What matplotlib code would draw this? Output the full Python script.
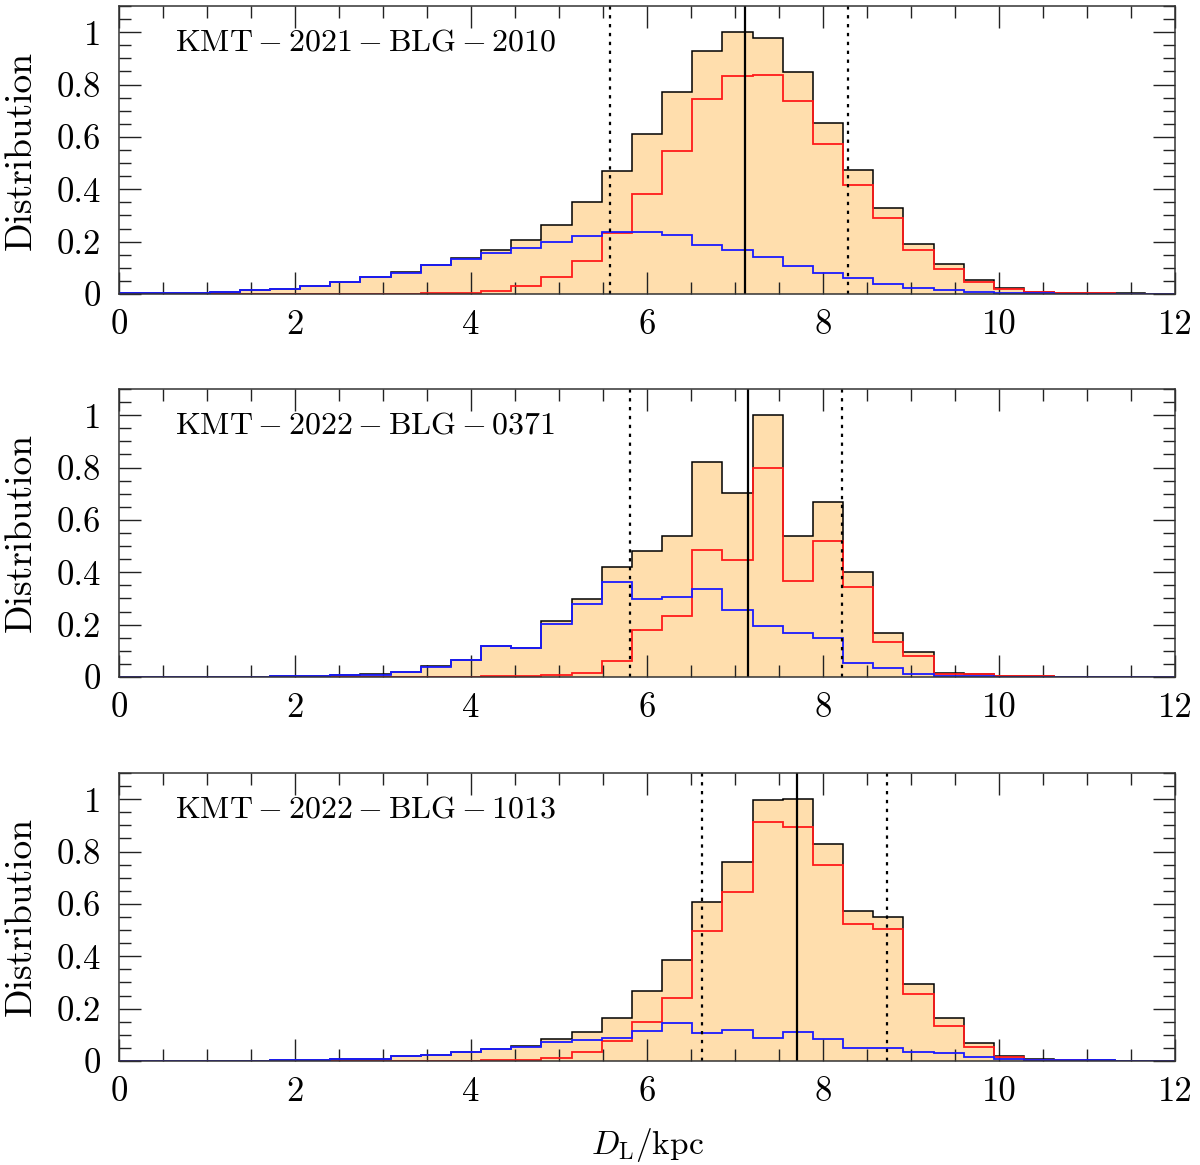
import numpy as np
import matplotlib
matplotlib.use("Agg")
import matplotlib.pyplot as plt
from matplotlib.ticker import MultipleLocator, FixedLocator, FixedFormatter

plt.rcParams['font.family'] = ['cmr10', 'DejaVu Serif']
plt.rcParams['mathtext.fontset'] = 'cm'
plt.rcParams['axes.formatter.use_mathtext'] = True

# ---------------- data ----------------
n_bins = 35
x_min, x_max = 0.0, 12.0

event_names = ["KMT-2021-BLG-2010", "KMT-2022-BLG-0371", "KMT-2022-BLG-1013"]

total_2010 = [0.002, 0.003, 0.005, 0.009, 0.014, 0.019, 0.029, 0.045, 0.064, 0.083,
              0.112, 0.139, 0.169, 0.208, 0.265, 0.350, 0.468, 0.611, 0.773, 0.930,
              1.000, 0.978, 0.847, 0.653, 0.475, 0.329, 0.190, 0.115, 0.054, 0.023,
              0.008, 0.004, 0.003, 0.002, 0.001]
bulge_2010 = [0.000, 0.000, 0.000, 0.000, 0.000, 0.000, 0.000, 0.000, 0.000, 0.001,
              0.002, 0.005, 0.013, 0.032, 0.066, 0.127, 0.232, 0.382, 0.546, 0.745,
              0.832, 0.836, 0.739, 0.573, 0.418, 0.290, 0.168, 0.096, 0.045, 0.020,
              0.006, 0.003, 0.002, 0.000, 0.000]
disk_2010 = [0.002, 0.003, 0.005, 0.009, 0.014, 0.019, 0.029, 0.045, 0.064, 0.082,
             0.110, 0.134, 0.156, 0.176, 0.199, 0.223, 0.238, 0.236, 0.225, 0.187,
             0.168, 0.143, 0.108, 0.082, 0.062, 0.038, 0.023, 0.015, 0.006, 0.003,
             0.002, 0.001, 0.001, 0.001, 0.001]

total_0371 = [0.000, 0.000, 0.000, 0.000, 0.001, 0.003, 0.005, 0.008, 0.010, 0.020,
              0.041, 0.066, 0.118, 0.112, 0.214, 0.297, 0.420, 0.482, 0.540, 0.822,
              0.703, 1.000, 0.540, 0.669, 0.400, 0.169, 0.096, 0.017, 0.010, 0.004,
              0.002, 0.001, 0.000, 0.000, 0.000]
bulge_0371 = [0.000, 0.000, 0.000, 0.000, 0.000, 0.000, 0.000, 0.000, 0.000, 0.000,
              0.001, 0.001, 0.002, 0.003, 0.006, 0.017, 0.061, 0.181, 0.234, 0.484,
              0.446, 0.800, 0.368, 0.518, 0.344, 0.132, 0.082, 0.013, 0.010, 0.003,
              0.002, 0.001, 0.000, 0.000, 0.000]
disk_0371 = [0.000, 0.000, 0.000, 0.000, 0.001, 0.002, 0.004, 0.006, 0.009, 0.019,
             0.038, 0.066, 0.118, 0.112, 0.204, 0.280, 0.361, 0.299, 0.306, 0.335,
             0.255, 0.194, 0.167, 0.149, 0.054, 0.036, 0.010, 0.004, 0.002, 0.001,
             0.001, 0.000, 0.000, 0.000, 0.000]

total_1013 = [0.000, 0.000, 0.000, 0.000, 0.001, 0.002, 0.003, 0.006, 0.009, 0.018,
              0.022, 0.036, 0.046, 0.057, 0.084, 0.112, 0.164, 0.266, 0.385, 0.606,
              0.760, 0.997, 1.000, 0.830, 0.573, 0.551, 0.293, 0.163, 0.067, 0.020,
              0.009, 0.005, 0.003, 0.001, 0.000]
bulge_1013 = [0.000, 0.000, 0.000, 0.000, 0.000, 0.000, 0.000, 0.000, 0.000, 0.000,
              0.000, 0.001, 0.002, 0.005, 0.013, 0.033, 0.076, 0.148, 0.242, 0.497,
              0.644, 0.911, 0.892, 0.748, 0.522, 0.504, 0.257, 0.135, 0.053, 0.015,
              0.005, 0.003, 0.001, 0.000, 0.000]
disk_1013 = [0.000, 0.000, 0.000, 0.000, 0.001, 0.002, 0.003, 0.006, 0.009, 0.018,
             0.022, 0.035, 0.044, 0.052, 0.071, 0.079, 0.089, 0.116, 0.145, 0.108,
             0.117, 0.087, 0.111, 0.084, 0.051, 0.048, 0.036, 0.031, 0.015, 0.006,
             0.004, 0.002, 0.002, 0.001, 0.001]

# median and 1-sigma range of D_L (kpc)
dl_median = [7.11, 7.15, 7.70]
dl_low = [5.58, 5.81, 6.63]
dl_high = [8.28, 8.22, 8.73]

x_tick_values = [0, 2, 4, 6, 8, 10, 12]
x_tick_labels = ["0", "2", "4", "6", "8", "10", "12"]
y_tick_values = [0, 0.2, 0.4, 0.6, 0.8, 1.0]
y_tick_labels = ["0", "0.2", "0.4", "0.6", "0.8", "1"]

totals = [total_2010, total_0371, total_1013]
bulges = [bulge_2010, bulge_0371, bulge_1013]
disks = [disk_2010, disk_0371, disk_1013]

# ---------------- figure ----------------
W, H = 1200, 1165
fig = plt.figure(figsize=(W / 100, H / 100), dpi=100)

left_px, right_px = 119, 1175
panel_px = [(6, 294), (389, 677), (773, 1061)]

edges = np.linspace(x_min, x_max, n_bins + 1)
fs = 23
tick_fs = 25
ylab_fs = 27

for i in range(3):
    top, bot = panel_px[i]
    ax = fig.add_axes([left_px / W, 1 - bot / H, (right_px - left_px) / W, (bot - top) / H])
    tot = np.array(totals[i])
    ax.stairs(tot, edges, fill=True, color='navajowhite', lw=0, zorder=1)
    ax.stairs(tot, edges, color='black', lw=1.1, zorder=2)
    ax.stairs(np.array(bulges[i]), edges, color='#ff1a1a', lw=1.3, zorder=3)
    ax.stairs(np.array(disks[i]), edges, color='#1a1aff', lw=1.3, zorder=4)

    ax.axvline(dl_median[i], color='black', lw=1.6, zorder=5)
    ax.axvline(dl_low[i], color='black', lw=1.6, ls=(0, (1.5, 2.5)), zorder=5)
    ax.axvline(dl_high[i], color='black', lw=1.6, ls=(0, (1.5, 2.5)), zorder=5)

    ax.set_xlim(x_min, x_max)
    ax.set_ylim(0, 1.1)

    ax.xaxis.set_major_locator(FixedLocator(x_tick_values))
    ax.xaxis.set_major_formatter(FixedFormatter(x_tick_labels))
    ax.xaxis.set_minor_locator(MultipleLocator(0.5))
    ax.yaxis.set_major_locator(FixedLocator(y_tick_values))
    ax.yaxis.set_major_formatter(FixedFormatter(y_tick_labels))
    ax.yaxis.set_minor_locator(MultipleLocator(0.05))

    ax.tick_params(which='both', direction='in', top=True, right=True,
                   width=1.0, color='#222222', labelsize=tick_fs)
    ax.tick_params(which='major', length=16)
    ax.tick_params(which='minor', length=8.5)
    ax.tick_params(axis='x', which='major', pad=11)
    ax.tick_params(axis='y', which='major', pad=13)

    for sp in ax.spines.values():
        sp.set_linewidth(1.1)
        sp.set_color('#333333')
        sp.set_zorder(6)

    ax.set_ylabel("Distribution", fontsize=ylab_fs)
    ax.yaxis.set_label_coords(-0.077, 0.5)

    ax.text(0.053, 0.847, r"$\mathrm{" + event_names[i] + "}$", transform=ax.transAxes,
            fontsize=fs, ha='left', va='baseline', zorder=7)

    if i == 2:
        ax.set_xlabel(r"$D_{\rm L}/{\rm kpc}$", fontsize=fs + 1)
        ax.xaxis.set_label_coords(0.5, -0.225)

fig.savefig("out.png", dpi=100)
